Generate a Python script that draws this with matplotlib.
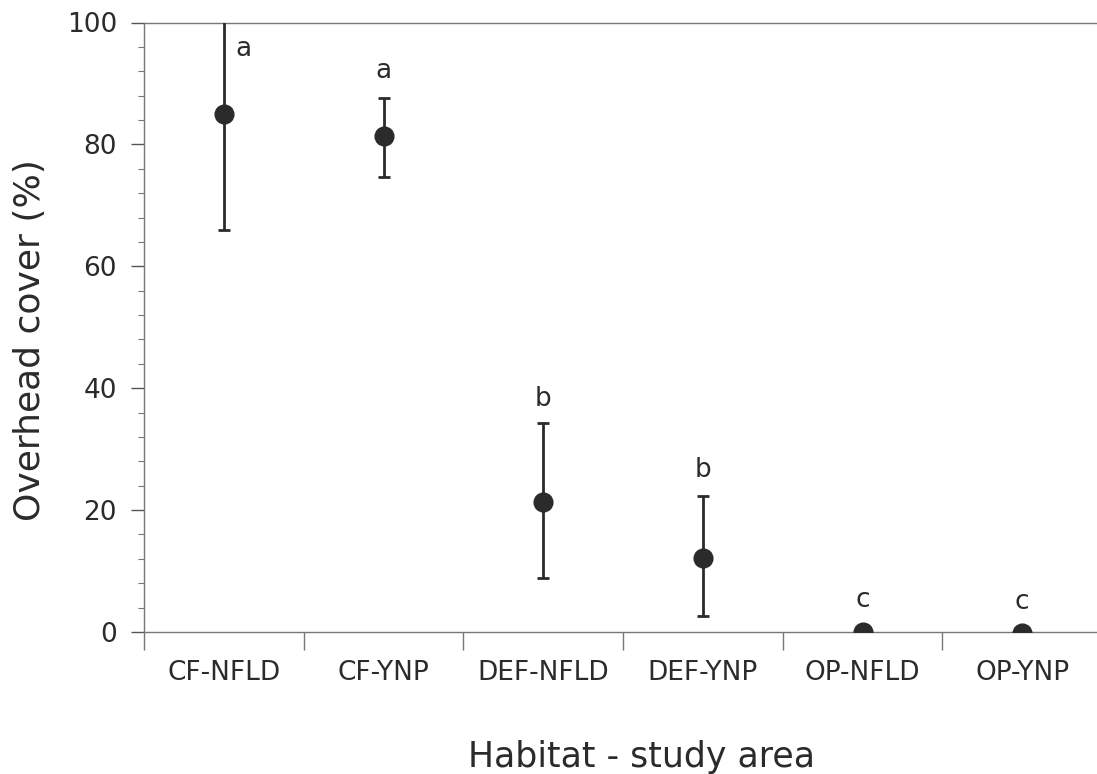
import matplotlib.pyplot as plt
from matplotlib.ticker import AutoMinorLocator

plt.rcParams['font.family'] = ['DejaVu Sans']

habitats = ['CF-NFLD', 'CF-YNP', 'DEF-NFLD', 'DEF-YNP', 'OP-NFLD', 'OP-YNP']
means = [85.0, 81.3, 21.3, 12.1, 0.0, -0.2]
upper = [104.0, 87.6, 34.3, 22.3, 0.0, -0.2]
lower = [66.0, 74.7, 8.8, 2.6, 0.0, -0.2]
letters = ['a', 'a', 'b', 'b', 'c', 'c']
letter_y = [95.6, 92.0, 38.2, 26.6, 5.3, 5.0]
letter_dx = [0.125, 0, 0, 0, 0, 0]

ink = '#2b2b2b'
fig = plt.figure(figsize=(10.97, 7.74), dpi=100)
ax = fig.add_axes([144 / 1097, 1 - 632 / 774, 958 / 1097, (632 - 22.5) / 774])

x = list(range(len(habitats)))
err = [[m - lo for m, lo in zip(means, lower)], [u - m for m, u in zip(means, upper)]]
ax.errorbar(x, means, yerr=err, fmt='o', color=ink, ecolor=ink, markersize=13.5,
            elinewidth=2.0, capsize=4, capthick=2, zorder=3)

for xi, t, ly, dx in zip(x, letters, letter_y, letter_dx):
    ax.text(xi + dx, ly, t, ha='center', va='center', fontsize=19, color=ink)

ax.set_xlim(-0.5, 5.5)
ax.set_ylim(0, 100)
ax.set_yticks(range(0, 101, 20))
ax.yaxis.set_minor_locator(AutoMinorLocator(5))
ax.set_xticks(x)
ax.set_xticklabels(habitats)
ax.set_xticks([i - 0.5 for i in x], minor=True)

ax.tick_params(axis='y', which='major', length=9.5, width=1, pad=10,
               labelsize=19, colors='#555555', labelcolor=ink)
ax.tick_params(axis='y', which='minor', length=4, width=0.8, colors='#777777')
ax.tick_params(axis='x', which='major', length=0, pad=20, labelsize=19, labelcolor=ink)
ax.tick_params(axis='x', which='minor', length=13, width=1, colors='#777777')

for s in ['left', 'bottom', 'top', 'right']:
    ax.spines[s].set_color('#777777')
    ax.spines[s].set_linewidth(1)
ax.spines['right'].set_visible(False)

fig.text(642 / 1097, 1 - 757 / 774, 'Habitat - study area', ha='center', va='center',
         fontsize=25, color=ink)
fig.text(30 / 1097, 1 - 340 / 774, 'Overhead cover (%)', ha='center', va='center',
         rotation=90, fontsize=26, color=ink)

fig.savefig('out.png', dpi=100)
